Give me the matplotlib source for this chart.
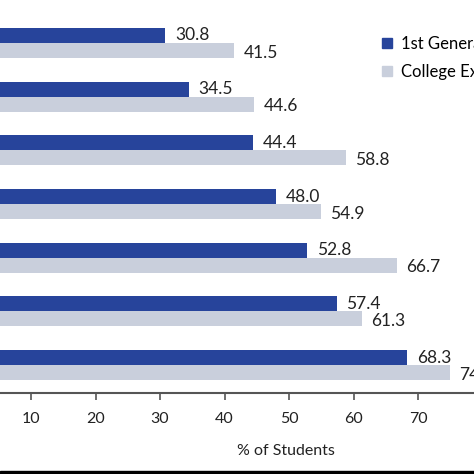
import numpy as np
import matplotlib.pyplot as plt
from matplotlib.patches import Rectangle
from matplotlib.lines import Line2D

plt.rcParams['font.family'] = ['Lato', 'DejaVu Sans']

# values (top group first)
first_gen = [30.8, 34.5, 44.4, 48.0, 52.8, 57.4, 68.3]
college_exp = [41.5, 44.6, 58.8, 54.9, 66.7, 61.3, 74.9]
series_names = ['1st Generation', 'College Experienced']
xticks = [10, 20, 30, 40, 50, 60, 70]

dark = '#27449b'
light = '#c9cfdc'

W = 474
fig = plt.figure(figsize=(4.74, 4.74), dpi=100)
# the chart is cropped on the left: axes start before the figure edge
px_per_unit = 6.45
left_px = -33.5
ax_w = 80 * px_per_unit
ax = fig.add_axes([left_px / W, (W - 393) / W, ax_w / W, 393 / W])

y = np.arange(len(first_gen))
h = 0.28
ax.barh(y - h / 2, first_gen, height=h, color=dark)
ax.barh(y + h / 2, college_exp, height=h, color=light)

for yi, v in zip(y, first_gen):
    ax.text(v + 1.5, yi - h / 2, f'{v:.1f}', va='center', ha='left', fontsize=12.5, color='#222222')
for yi, v in zip(y, college_exp):
    ax.text(v + 1.5, yi + h / 2 + 0.04, f'{v:.1f}', va='center', ha='left', fontsize=12.5, color='#222222')

ax.set_xlim(0, 80)
ax.set_ylim(6.52, -0.80)
ax.set_xticks(xticks)
ax.set_yticks([])
ax.tick_params(axis='x', length=5, width=1.2, color='#555555', labelsize=11.5, pad=9, labelcolor='#222222')
for s in ['top', 'right', 'left']:
    ax.spines[s].set_visible(False)
ax.spines['bottom'].set_color('#555555')
ax.spines['bottom'].set_linewidth(1.5)
ax.set_xlabel('% of Students', fontsize=11.5, color='#222222')
ax.xaxis.set_label_coords((286 - left_px) / ax_w, -51 / 393)

handles = [Line2D([], [], marker='s', linestyle='none', markersize=7.5, color=c) for c in (dark, light)]
fig.legend(handles, series_names, loc='upper left', bbox_to_anchor=(364 / W, 1 - 21 / W),
           frameon=False, fontsize=12, handletextpad=0.3, labelspacing=0.7, handlelength=1.0)

fig.patches.append(Rectangle((0, 0), 1, 3 / W, transform=fig.transFigure, color='black'))

fig.savefig('out.png', dpi=100)
